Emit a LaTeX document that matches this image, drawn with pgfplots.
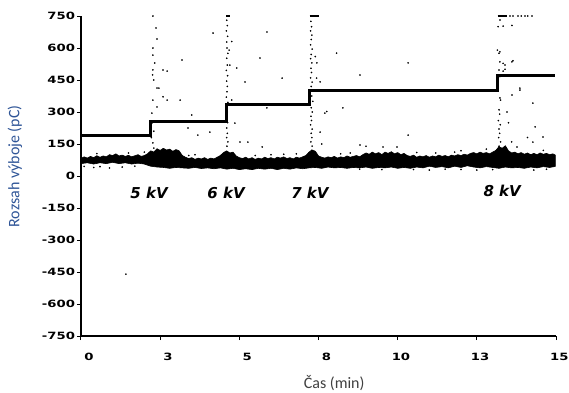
\documentclass[border=0pt]{standalone}
\usepackage{fontspec}
\usepackage{pgfplots}
\pgfplotsset{compat=1.18}
\setmainfont{DejaVu Sans}
\newfontfamily\dejavu{DejaVu Sans}
\newfontfamily\carlito{Carlito}
\definecolor{ylabblue}{HTML}{2F5597}
\definecolor{xlabgray}{HTML}{404040}
\begin{document}
\begin{tikzpicture}
\useasboundingbox (-81pt,-56pt) rectangle (488pt,336pt);
\begin{axis}[
  scale only axis, width=475pt, height=320pt,
  xmin=0, xmax=15, ymin=-750, ymax=750,
  axis lines*=left,
  axis line style={line width=1.2pt},
  xtick={0,2.5,5,7.5,10,12.5,15},
  xticklabels={\hphantom{0}0,\hphantom{0}3,\hphantom{0}5,\hphantom{0}8,10,13,15},
  ytick={-750,-600,-450,-300,-150,0,150,300,450,600,750},
  yticklabels={-750,-600,-450,-300,-150,0,150,300,450,600,750},
  tick align=outside, major tick length=4pt,
  tick style={line width=1pt, black},
  ticklabel style={font=\dejavu\bfseries\fontsize{10}{12}\selectfont, xscale=1.32},
  xticklabel style={xshift=2.5pt, yshift=-10pt},
  yticklabel style={xshift=2pt},
  xlabel={Čas (min)},
  xlabel style={font=\carlito\fontsize{16}{16}\selectfont, color=xlabgray, at={(axis description cs:0.533,-0.147)}, anchor=center},
  ylabel={Rozsah výboje (pC)},
  ylabel style={font=\carlito\fontsize{16}{16}\selectfont, color=ylabblue, at={(axis description cs:-0.139,0.53)}, anchor=center},
  clip=false,
]
% noise band
\addplot[fill=black, draw=black, line width=0.6pt, line join=round] coordinates {
(0.0,82)(0.1,90)(0.2,84)(0.3,92)(0.4,86)(0.5,95)(0.6,88)(0.7,94)(0.8,90)(0.9,100)(1.0,96)(1.1,104)
(1.2,94)(1.3,98)(1.4,92)(1.5,97)(1.6,90)(1.7,95)(1.8,100)(1.9,92)(2.0,96)(2.1,104)(2.2,118)(2.3,112)
(2.4,128)(2.5,120)(2.6,130)(2.7,122)(2.8,126)(2.9,116)(3.0,124)(3.1,118)(3.2,96)(3.3,88)(3.4,82)
(3.5,86)(3.6,78)(3.7,84)(3.8,80)(3.9,86)(4.0,78)(4.1,84)(4.2,80)(4.3,88)(4.4,96)(4.5,110)(4.6,118)
(4.7,108)(4.8,112)(4.9,94)(5.0,86)(5.1,82)(5.2,88)(5.3,80)(5.4,86)(5.5,78)(5.6,84)(5.7,80)(5.8,88)
(5.9,82)(6.0,86)(6.1,80)(6.2,88)(6.3,84)(6.4,90)(6.5,82)(6.6,86)(6.7,80)(6.8,88)(6.9,84)(7.0,90)
(7.1,96)(7.2,112)(7.3,122)(7.4,116)(7.5,94)(7.6,88)(7.7,84)(7.8,90)(7.9,86)(8.0,92)(8.1,84)(8.2,90)
(8.3,86)(8.4,94)(8.5,88)(8.6,92)(8.7,96)(8.8,90)(8.9,100)(9.0,108)(9.1,102)(9.2,112)(9.3,104)
(9.4,110)(9.5,100)(9.6,112)(9.7,106)(9.8,114)(9.9,104)(10.0,110)(10.1,100)(10.2,106)(10.3,96)
(10.4,92)(10.5,98)(10.6,88)(10.7,94)(10.8,90)(10.9,96)(11.0,88)(11.1,94)(11.2,90)(11.3,98)(11.4,92)
(11.5,96)(11.6,90)(11.7,98)(11.8,94)(11.9,100)(12.0,96)(12.1,102)(12.2,98)(12.3,106)(12.4,110)
(12.5,104)(12.6,112)(12.7,106)(12.8,110)(12.9,104)(13.0,112)(13.1,120)(13.2,138)(13.3,130)(13.4,142)
(13.5,118)(13.6,108)(13.7,112)(13.8,104)(13.9,110)(14.0,102)(14.1,108)(14.2,100)(14.3,106)(14.4,100)
(14.5,108)(14.6,102)(14.7,106)(14.8,100)(14.9,104)(14.98,98)
(14.98,45)(14.8,40)(14.6,44)(14.4,38)(14.2,42)(14.0,36)(13.8,40)(13.6,38)(13.4,42)(13.2,36)(13.0,40)
(12.8,44)(12.6,38)(12.4,42)(12.2,48)(12.0,40)(11.8,46)(11.6,38)(11.4,44)(11.2,40)(11.0,46)(10.8,38)
(10.6,42)(10.4,36)(10.2,40)(10.0,36)(9.8,42)(9.6,38)(9.4,40)(9.2,36)(9.0,42)(8.8,38)(8.6,40)(8.4,36)
(8.2,40)(8.0,38)(7.8,42)(7.6,36)(7.4,40)(7.2,38)(7.0,34)(6.8,38)(6.6,32)(6.4,36)(6.2,30)(6.0,36)
(5.8,32)(5.6,36)(5.4,30)(5.2,34)(5.0,30)(4.8,36)(4.6,32)(4.4,38)(4.2,34)(4.0,38)(3.8,35)(3.6,40)
(3.4,36)(3.2,38)(3.0,40)(2.8,36)(2.6,40)(2.4,42)(2.2,46)(2.0,56)(1.8,60)(1.6,56)(1.4,62)(1.2,58)
(1.0,64)(0.8,58)(0.6,62)(0.4,56)(0.2,62)(0.0,58)
};
% scattered discharges
\addplot[only marks, mark=*, mark size=0.6pt, black] coordinates {
(2.27,750)(2.37,694)(2.40,642)(2.27,600)(2.27,567)(2.33,530)(2.27,497)(2.59,497)(2.72,492)(2.26,474)
(2.30,450)(2.40,412)(2.46,412)(2.59,371)(2.27,356)(2.72,356)(3.13,356)(2.40,324)(2.24,295)(3.5,286)
(3.69,192)(3.38,225)(2.27,155)(2.30,131)(3.19,544)(2.25,250)(2.3,210)(2.22,180)
(4.60,730)(4.62,705)(4.59,680)(4.63,655)(4.60,628)(4.61,600)(4.64,575)(4.60,552)(4.62,520)(4.59,495)
(4.63,470)(4.60,445)(4.62,420)(4.61,395)(4.59,370)(4.64,345)(4.62,300)(4.60,280)(4.63,250)(4.60,225)
(4.62,200)(4.60,180)(4.64,160)(4.61,140)
(4.76,630)(4.92,506)(4.76,356)(4.86,248)(5.02,159)(5.27,159)(5.72,136)(6.35,459)(5.18,441)(5.65,553)
(5.87,675)(4.17,670)(4.07,206)(5.87,319)(4.70,520)(4.68,590)
(7.26,725)(7.28,700)(7.25,680)(7.29,660)(7.27,640)(7.25,615)(7.30,595)(7.27,570)(7.25,550)(7.29,530)
(7.26,505)(7.28,485)(7.25,460)(7.30,440)(7.27,420)(7.25,395)(7.29,375)(7.32,350)(7.27,320)(7.30,300)
(7.26,280)(7.28,260)(7.25,240)(7.30,220)(7.27,200)(7.29,180)(7.26,160)(7.30,140)(7.28,120)
(7.44,459)(7.55,441)(7.76,302)(7.70,295)(8.07,576)(8.27,319)(7.55,206)(7.60,150)(8.81,473)(10.33,530)
(10.33,192)(8.81,145)(9.54,136)(9.98,136)(7.40,560)(7.45,530)
(13.55,750)(13.64,750)(13.80,750)(13.90,750)(14.02,750)(14.11,750)(14.24,750)
(13.23,731)(13.17,700)(13.33,703)(13.61,706)(13.15,590)(13.20,575)(13.23,582)(13.23,535)(13.33,528)
(13.39,520)(13.61,535)(13.64,540)(13.20,497)(13.33,492)(13.39,500)(13.17,462)(13.23,466)(13.86,412)
(13.61,380)(13.23,366)(13.25,356)(13.20,310)(13.22,290)(13.18,260)(13.24,240)(13.20,220)(13.22,200)
(13.19,180)(13.25,160)(13.20,140)(13.86,403)(14.27,342)(14.34,230)(14.59,183)(14.27,159)(13.77,136)
(13.45,300)(13.50,250)(14.1,180)(13.6,160)
(1.42,-460)
(0.1,45)(0.4,40)(0.6,44)(0.9,38)(1.3,42)(1.7,46)(10.5,30)(11.0,28)(11.5,32)(12.0,30)(12.5,28)
(13.0,30)(14.7,32)(14.3,28)(9.5,30)(8.8,32)
(0.5,105)(1.5,108)(3.4,96)(5.5,96)(6.0,100)(6.8,104)(8.5,108)(9.0,140)(10.6,110)(11.2,108)
(12.0,118)(12.8,126)(14.6,120)(2.0,112)(3.6,100)(6.4,102)(8.2,104)(11.8,112)
};
% short dashes at the top
\addplot[black, line width=1.5pt] coordinates {(4.58,750)(4.72,750)};
\addplot[black, line width=1.5pt] coordinates {(7.22,750)(7.50,750)};
\addplot[black, line width=1.8pt] coordinates {(13.16,750)(13.45,750)};
% step line
\addplot[black, line width=3pt, line join=miter] coordinates {
(0,189)(2.21,189)(2.21,255)(4.58,255)(4.58,333)(7.23,333)(7.23,403)(13.16,403)(13.16,469)(14.98,469)
};
% voltage labels
\node[font=\dejavu\bfseries\itshape\fontsize{15}{15}\selectfont] at (axis cs:2.15,-80) {5 kV};
\node[font=\dejavu\bfseries\itshape\fontsize{15}{15}\selectfont] at (axis cs:4.58,-80) {6 kV};
\node[font=\dejavu\bfseries\itshape\fontsize{15}{15}\selectfont] at (axis cs:7.23,-80) {7 kV};
\node[font=\dejavu\bfseries\itshape\fontsize{15}{15}\selectfont] at (axis cs:13.3,-72) {8 kV};
\end{axis}
\end{tikzpicture}
\end{document}
